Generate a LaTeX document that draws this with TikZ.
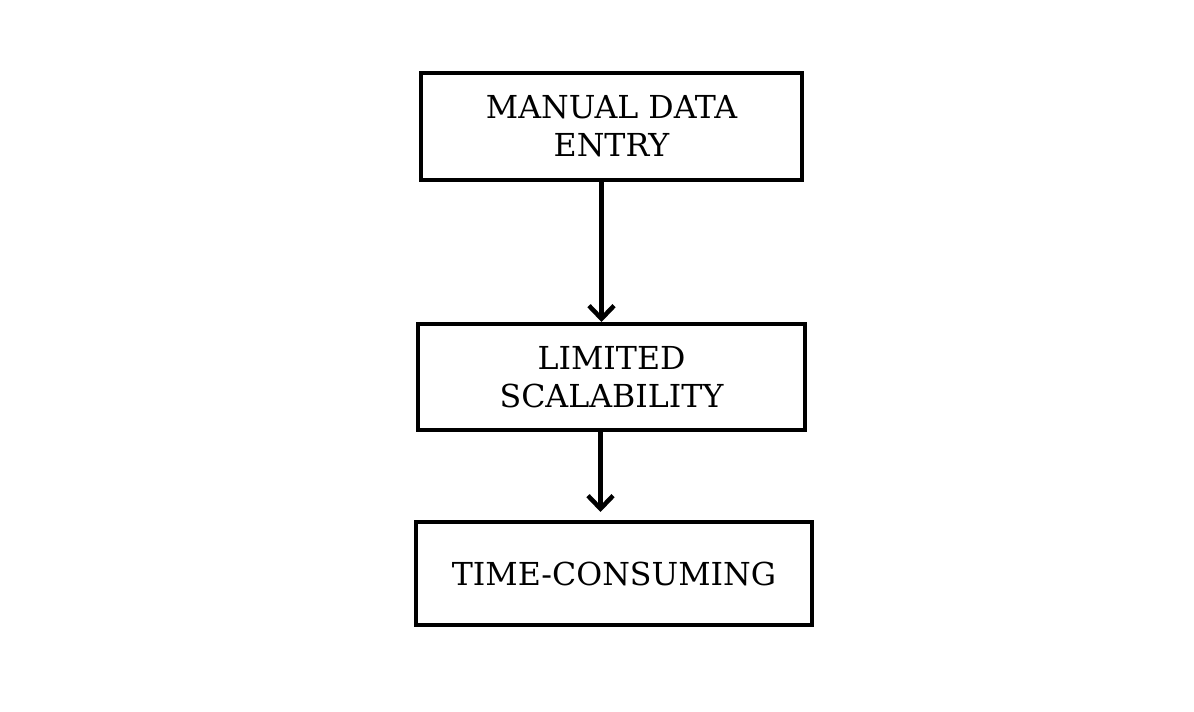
\documentclass[tikz,border=0pt]{standalone}
\usepackage{fontspec}
\setmainfont{DejaVu Serif}
\usetikzlibrary{arrows.meta}

\begin{document}
\begin{tikzpicture}[
        stagebox/.style={draw, line width=2.3pt, align=center, inner sep=0pt,
            font=\fontsize{18}{21.5}\selectfont},
        flow/.style={line width=2.6pt, -{Straight Barb[length=2.6mm, width=5mm, line width=2.6pt]}}
    ]
    \useasboundingbox (0,0) rectangle (23.88,-14.22);

    \node [stagebox, minimum width=7.62cm, minimum height=2.14cm] (manual) at (12.23,-2.53) {MANUAL DATA\\ENTRY};
    \node [stagebox, minimum width=7.74cm, minimum height=2.12cm] (scal) at (12.23,-7.54) {LIMITED\\SCALABILITY};
    \node [stagebox, minimum width=7.92cm, minimum height=2.06cm] (time) at (12.28,-11.47) {TIME-CONSUMING};

    \draw [flow] ([xshift=-0.2cm]manual.south) -- ([xshift=-0.2cm]scal.north);
    \draw [flow] ([xshift=-0.22cm]scal.south) -- ([xshift=-0.27cm,yshift=0.16cm]time.north);

\end{tikzpicture}
\end{document}
